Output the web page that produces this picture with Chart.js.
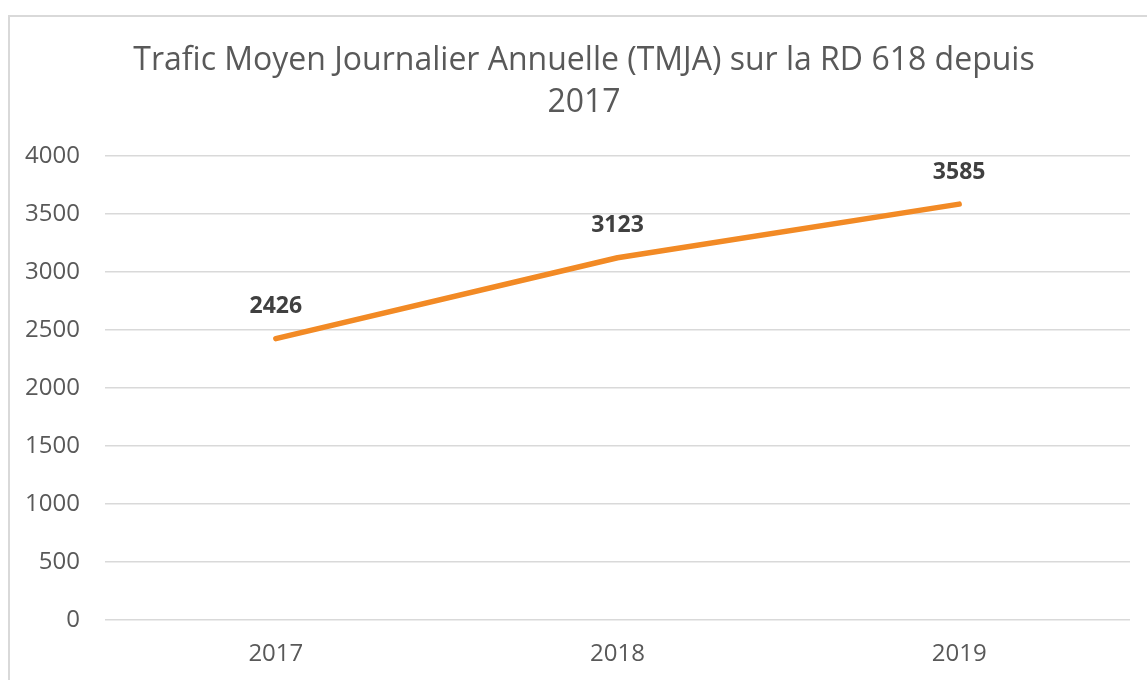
<!DOCTYPE html>
<html>
<head>
<meta charset="utf-8">
<script src="https://cdn.jsdelivr.net/npm/chart.js@4"></script>
<style>
  html, body { margin: 0; padding: 0; background: #fff; }
  body { width: 1147px; height: 680px; overflow: hidden; position: relative; }
  .frame {
    position: absolute; left: 8px; top: 15px; width: 1200px; height: 700px;
    border: 2px solid #d9d9d9; box-sizing: border-box;
  }
  #chart { position: absolute; left: 0; top: 0; }
</style>
</head>
<body>
<div class="frame"></div>
<canvas id="chart" width="1147" height="680"></canvas>
<script>
// data
const years = ['2017', '2018', '2019'];
const tmja = [2426, 3123, 3585];
const titleLines = ['Trafic Moyen Journalier Annuelle (TMJA) sur la RD 618 depuis', '2017'];

const textGrey = '#595959';
const lineOrange = '#f28a25';

// title + value labels drawn by hand (no datalabels plugin offline)
const decorPlugin = {
  id: 'decor',
  afterDatasetsDraw(chart) {
    const ctx = chart.ctx;
    ctx.save();
    ctx.fillStyle = textGrey;
    ctx.font = '32px "Open Sans"';
    ctx.textAlign = 'center';
    ctx.textBaseline = 'middle';
    titleLines.forEach((line, i) => ctx.fillText(line, 584, 61 + i * 42));

    const meta = chart.getDatasetMeta(0);
    ctx.fillStyle = '#404040';
    ctx.font = 'bold 23px "Open Sans"';
    meta.data.forEach((pt, i) => {
      ctx.fillText(tmja[i], pt.x, pt.y - 32);
    });
    ctx.restore();
  }
};

new Chart(document.getElementById('chart'), {
  type: 'line',
  data: {
    labels: years,
    datasets: [{
      data: tmja,
      borderColor: lineOrange,
      borderWidth: 5.5,
      borderCapStyle: 'round',
      borderJoinStyle: 'round',
      pointRadius: 0,
      tension: 0,
    }],
  },
  options: {
    responsive: false,
    animation: false,
    layout: { padding: { left: 0, right: 17, top: 156, bottom: 0 } },
    plugins: {
      legend: { display: false },
      title: { display: false },
      tooltip: { enabled: false },
    },
    scales: {
      x: {
        offset: true,
        grid: { display: false, drawTicks: false },
        border: { display: false },
        ticks: { color: textGrey, font: { family: 'Open Sans', size: 24 }, padding: 20 },
        afterFit: s => { s.height = 60; },
      },
      y: {
        min: 0,
        max: 4000,
        grid: { color: '#d9d9d9', lineWidth: 1.5, drawTicks: false },
        border: { display: false },
        ticks: {
          stepSize: 500,
          color: textGrey,
          font: { family: 'Open Sans', size: 24 },
          padding: 25,
          callback: v => String(v),
        },
        afterFit: s => { s.width = 105; },
      },
    },
  },
  plugins: [decorPlugin],
});
</script>
</body>
</html>
